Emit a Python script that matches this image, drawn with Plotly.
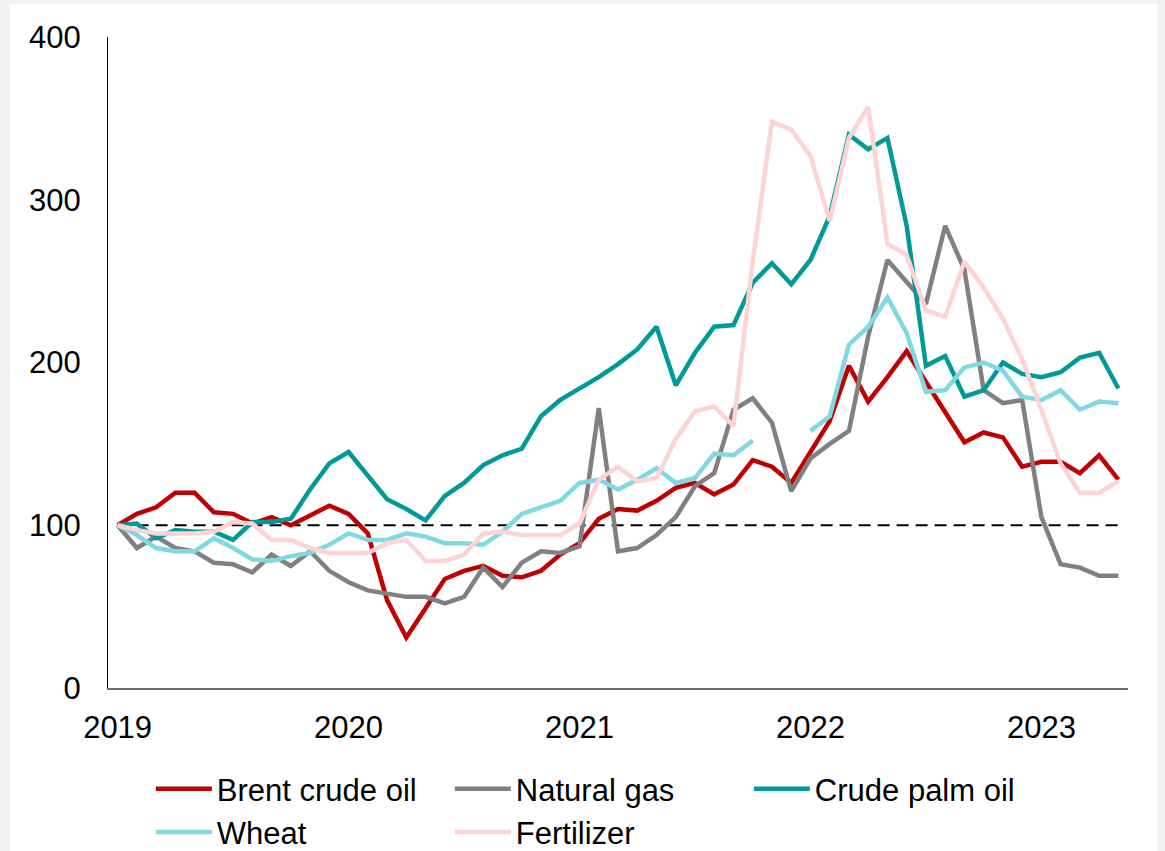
import plotly.graph_objects as go

months = [f"{y}-{m:02d}" for y in range(2019, 2024) for m in range(1, 13)][:53]

brent = [100, 107, 111, 120, 120, 108, 107, 101, 105, 100, 106, 112, 107, 95, 54, 31, 49, 67, 72, 75,
         69, 68, 72, 82, 89, 104, 110, 109, 115, 123, 126, 119, 125, 140, 136, 126, 145, 164, 198, 176,
         191, 207, 188, 170, 151, 157, 154, 136, 139, 139, 132, 143, 128]
natgas = [100, 86, 93, 86, 84, 77, 76, 71, 82, 75, 84, 72, 65, 60, 58, 56, 56, 52, 56, 74,
          62, 77, 84, 83, 87, 172, 84, 86, 94, 105, 124, 132, 171, 178, 163, 121, 141, 150, 158, 216,
          263, 250, 236, 284, 257, 183, 175, 177, 105, 76, 74, 69, 69]
palm = [100, 101, 92, 97, 96, 96, 91, 102, 102, 104, 122, 138, 145, 130, 116, 110, 103, 118, 126, 137,
        143, 147, 167, 177, 184, 191, 199, 208, 222, 186, 206, 222, 223, 249, 261, 248, 263, 290, 340, 331,
        338, 284, 198, 204, 179, 183, 200, 193, 191, 194, 203, 206, 184]
wheat = [100, 94, 86, 84, 84, 92, 86, 79, 78, 81, 83, 88, 95, 91, 91, 95, 93, 89, 89, 88,
         96, 107, 111, 115, 126, 128, 122, 128, 135, 126, 129, 144, 143, 152, None, None, 158, 167, 211, 222,
         240, 218, 182, 183, 197, 200, 195, 179, 177, 183, 171, 176, 175]
fert = [100, 97, 95, 95, 95, 96, 102, 101, 91, 91, 86, 83, 83, 83, 89, 91, 78, 78, 82, 95,
        96, 94, 94, 94, 101, 128, 136, 127, 129, 153, 170, 173, 161, 262, 348, 343, 327, 287, 338, 357,
        273, 266, 232, 228, 262, 246, 227, 202, 171, 138, 120, 120, 127]
baseline = [100] * 53

names = ["Brent crude oil", "Natural gas", "Crude palm oil", "Wheat", "Fertilizer"]
colors = ["#C00000", "#808080", "#009999", "#80D8E2", "#FFD3D3"]
series = [brent, natgas, palm, wheat, fert]

year_ticks = ["2019-01", "2020-01", "2021-01", "2022-01", "2023-01"]
year_labels = ["2019", "2020", "2021", "2022", "2023"]
y_ticks = [0, 100, 200, 300, 400]

FONT = "Liberation Sans, Arial, sans-serif"

fig = go.Figure()
fig.add_trace(go.Scatter(x=months, y=baseline, mode="lines", showlegend=False, hoverinfo="skip",
                         line=dict(color="#000000", width=2, dash="12px,7px")))
for n, c, s in zip(names, colors, series):
    fig.add_trace(go.Scatter(x=months, y=s, name=n, mode="lines",
                             line=dict(color=c, width=4.5)))

W, H = 1165, 851
L, R, T, B = 108, 37, 37, 163
pw, ph = W - L - R, H - T - B

fig.add_shape(type="rect", xref="paper", yref="paper", layer="below",
              x0=(10 - L) / pw, x1=(1157 - L) / pw,
              y0=(H - B - H - 5) / ph, y1=(H - B - 4) / ph,
              line=dict(width=0), fillcolor="white")

fig.update_layout(
    width=W, height=H,
    margin=dict(l=L, r=R, t=T, b=B, autoexpand=False),
    paper_bgcolor="#F2F2F2", plot_bgcolor="white",
    hovermode=False,
    font=dict(family=FONT, size=31, color="#000000"),
    xaxis=dict(type="category", range=[-0.5, 52.5], tickmode="array",
               tickvals=year_ticks, ticktext=year_labels, showgrid=False,
               showline=True, linecolor="#6E6E6E", linewidth=1.5, ticks="",
               ticklabelstandoff=11, zeroline=False),
    yaxis=dict(range=[0, 400], tickvals=y_ticks, showgrid=False, zeroline=False,
               showline=True, linecolor="#000000", linewidth=1, ticks="",
               ticklabelstandoff=20),
    legend=dict(orientation="h", x=0.042, xanchor="left", y=-0.1137, yanchor="top",
                entrywidth=228, entrywidthmode="pixels", itemwidth=56,
                font=dict(family=FONT, size=31, color="#000000"),
                bgcolor="rgba(0,0,0,0)"),
)

fig.write_html(
    "out.html",
    config={"displayModeBar": False},
    post_script="document.body.style.margin='0';document.body.style.overflow='hidden';"
                "document.body.style.background='#F2F2F2';",
)
